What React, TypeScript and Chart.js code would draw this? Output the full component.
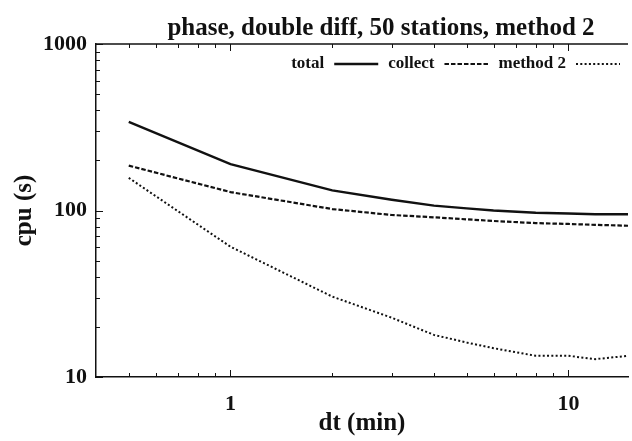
import { useEffect, useRef } from "react";
import { Chart, registerables } from "chart.js";

Chart.register(...registerables);

const dtMinutes = [0.5, 1, 2, 3, 4, 5, 6, 8, 10, 12, 15];
const totalCpu = [341, 190, 132, 116, 107, 103, 100, 97, 96, 95, 95];
const collectCpu = [186, 129, 102, 94, 91, 88.5, 86.5, 84, 83, 82, 81];
const method2Cpu = [157, 60.6, 30.4, 22.7, 17.9, 16.1, 14.9, 13.4, 13.4, 12.8, 13.4];

const seriesLabels = ["total", "collect", "method 2"];
const chartTitle = "phase, double diff, 50 stations, method 2";
const xAxisTitle = "dt (min)";
const yAxisTitle = "cpu (s)";

const xTickValues = [0.5, 0.6, 0.7, 0.8, 0.9, 1, 2, 3, 4, 5, 6, 7, 8, 9, 10];
const xMajorTicks = [1, 10];
const yTickValues = [10, 20, 30, 40, 50, 60, 70, 80, 90, 100, 200, 300, 400, 500, 600, 700, 800, 900, 1000];
const yMajorTicks = [10, 100, 1000];

const FONT = "'Liberation Serif', 'Times New Roman', serif";
const INK = "#111111";

const decorPlugin = {
  id: "decor",
  afterDraw(chart: any) {
    const { ctx, chartArea, scales } = chart;
    const { left, right, top, bottom } = chartArea;
    const x = scales.x;
    const y = scales.y;
    ctx.save();
    ctx.strokeStyle = INK;
    ctx.lineWidth = 1.5;
    ctx.beginPath();
    ctx.moveTo(left, top);
    ctx.lineTo(right, top);
    ctx.stroke();

    ctx.lineWidth = 1;
    ctx.beginPath();
    for (const v of xTickValues) {
      const px = Math.round(x.getPixelForValue(v)) + 0.5;
      const len = xMajorTicks.includes(v) ? 7 : 4;
      ctx.moveTo(px, bottom);
      ctx.lineTo(px, bottom - len);
      ctx.moveTo(px, top);
      ctx.lineTo(px, top + len);
    }
    for (const v of yTickValues) {
      const py = Math.round(y.getPixelForValue(v)) + 0.5;
      const len = yMajorTicks.includes(v) ? 7 : 4;
      ctx.moveTo(left, py);
      ctx.lineTo(left + len, py);
    }
    ctx.stroke();

    // title
    ctx.fillStyle = INK;
    ctx.font = `bold 25px ${FONT}`;
    ctx.textAlign = "center";
    ctx.textBaseline = "alphabetic";
    ctx.fillText(chartTitle, 381, 35);

    // legend (text then line sample), right aligned in the plot
    ctx.font = `bold 17px ${FONT}`;
    ctx.textBaseline = "middle";
    ctx.textAlign = "right";
    const ly = top + 20;
    let cx = right - 8;
    const ds = chart.data.datasets;
    for (let i = ds.length - 1; i >= 0; i--) {
      const d = ds[i];
      ctx.save();
      ctx.strokeStyle = d.borderColor;
      ctx.lineWidth = d.borderWidth;
      ctx.setLineDash(d.borderDash || []);
      ctx.beginPath();
      ctx.moveTo(cx - 44, ly);
      ctx.lineTo(cx, ly);
      ctx.stroke();
      ctx.restore();
      cx -= 44 + 10;
      ctx.fillText(d.label, cx, ly);
      cx -= ctx.measureText(d.label).width + 10;
    }
    ctx.restore();
  },
};

export default function App() {
  const canvasRef = useRef<HTMLCanvasElement | null>(null);

  useEffect(() => {
    const canvas = canvasRef.current;
    if (!canvas) return;
    const mk = (data: number[]) => dtMinutes.map((v, i) => ({ x: v, y: data[i] }));
    const chart = new Chart(canvas, {
      type: "line",
      data: {
        datasets: [
          {
            label: seriesLabels[0],
            data: mk(totalCpu),
            borderColor: INK,
            borderWidth: 2.4,
            borderDash: [],
            pointRadius: 0,
            tension: 0,
          },
          {
            label: seriesLabels[1],
            data: mk(collectCpu),
            borderColor: INK,
            borderWidth: 2.2,
            borderDash: [4.5, 2],
            pointRadius: 0,
            tension: 0,
          },
          {
            label: seriesLabels[2],
            data: mk(method2Cpu),
            borderColor: INK,
            borderWidth: 2,
            borderDash: [2, 2.3],
            pointRadius: 0,
            tension: 0,
          },
        ],
      },
      options: {
        animation: false,
        responsive: false,
        maintainAspectRatio: false,
        layout: { padding: { top: 44, right: 4, left: 0, bottom: 0 } },
        plugins: {
          legend: { display: false },
          title: { display: false },
          tooltip: { enabled: false },
        },
        scales: {
          x: {
            type: "logarithmic",
            position: "bottom",
            min: 0.4,
            max: 15,
            grid: { display: false, drawTicks: false },
            border: { display: true, color: INK, width: 1.5 },
            afterBuildTicks: (scale: any) => {
              scale.ticks = xTickValues.map((v) => ({ value: v }));
            },
            afterFit: (scale: any) => {
              scale.height = 64;
            },
            ticks: {
              autoSkip: false,
              maxRotation: 0,
              padding: 14,
              color: INK,
              font: { family: FONT, size: 22, weight: "bold" },
              callback: (v: any) => (xMajorTicks.includes(Number(v)) ? String(v) : ""),
            },
            title: {
              display: true,
              text: xAxisTitle,
              color: INK,
              font: { family: FONT, size: 25, weight: "bold" },
              padding: { top: 0, bottom: 2 },
            },
          },
          y: {
            type: "logarithmic",
            position: "left",
            min: 10,
            max: 1000,
            grid: { display: false, drawTicks: false },
            border: { display: true, color: INK, width: 1.5 },
            afterBuildTicks: (scale: any) => {
              scale.ticks = yTickValues.map((v) => ({ value: v }));
            },
            afterFit: (scale: any) => {
              scale.width = 96;
            },
            ticks: {
              autoSkip: false,
              padding: 9,
              color: INK,
              font: { family: FONT, size: 22, weight: "bold" },
              callback: (v: any) => (yMajorTicks.includes(Number(v)) ? String(v) : ""),
            },
            title: {
              display: true,
              text: yAxisTitle,
              color: INK,
              font: { family: FONT, size: 25, weight: "bold" },
              padding: { top: 10, bottom: 0 },
            },
          },
        },
      },
      plugins: [decorPlugin],
    } as any);
    return () => chart.destroy();
  }, []);

  return (
    <div style={{ position: "fixed", left: 0, top: 0, width: 632, height: 441, background: "#fff" }}>
      <canvas ref={canvasRef} width={632} height={441} style={{ display: "block" }} />
    </div>
  );
}
